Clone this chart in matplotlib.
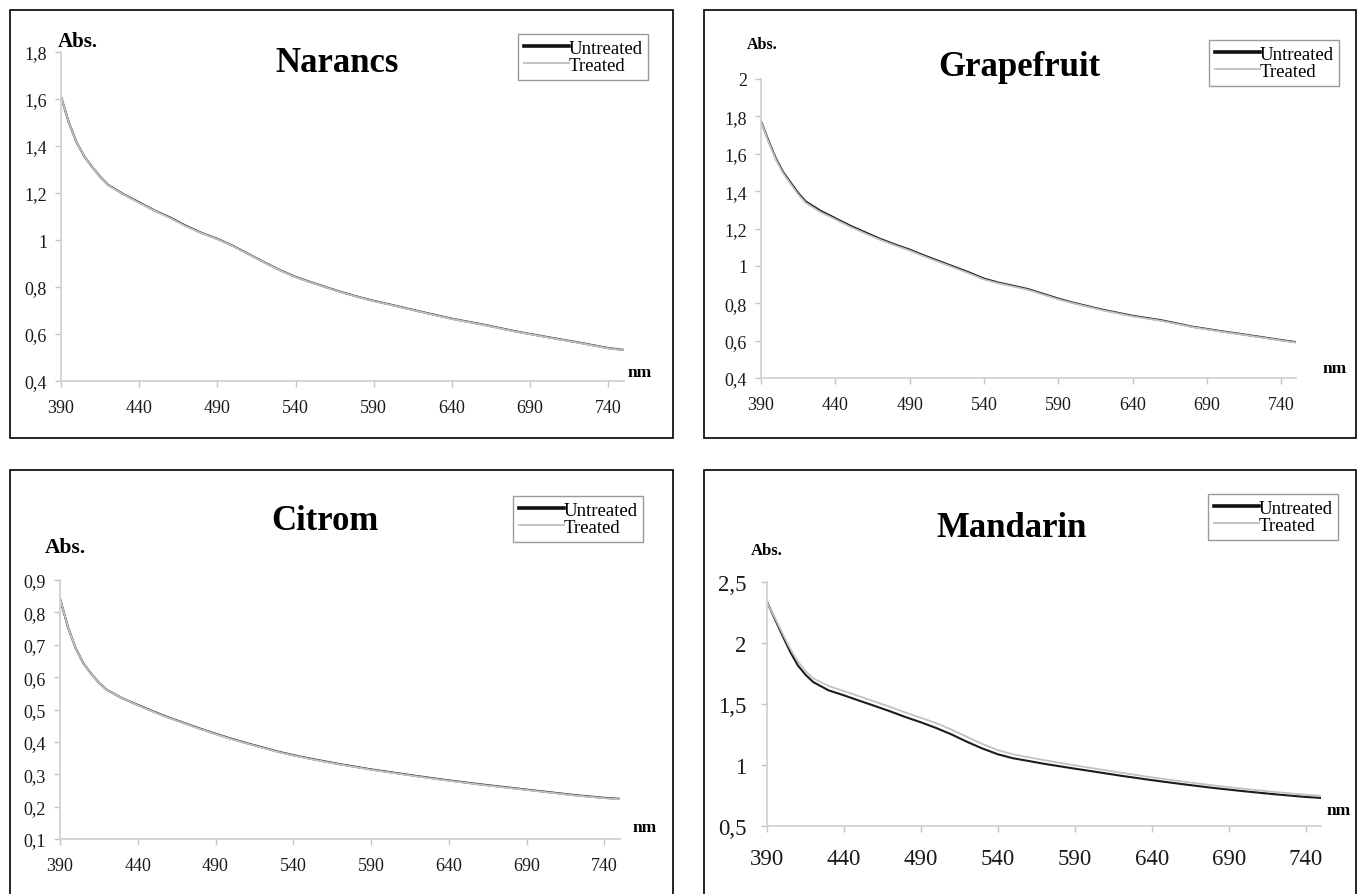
import matplotlib
matplotlib.use("Agg")
import matplotlib.pyplot as plt
from matplotlib.patches import Rectangle

plt.rcParams['font.family'] = ['Liberation Serif', 'DejaVu Serif']

# hullámhossz (nm)
wl = [390, 395, 400, 405, 410, 415, 420, 430, 440, 450, 460, 470, 480, 490, 500,
      510, 520, 530, 540, 550, 560, 570, 580, 590, 600, 620, 640, 660, 680, 700,
      720, 740, 750]

narancs_untreated = [1.61, 1.50, 1.415, 1.355, 1.31, 1.27, 1.235, 1.195, 1.16, 1.125,
                     1.095, 1.06, 1.03, 1.005, 0.975, 0.94, 0.905, 0.872, 0.843, 0.82,
                     0.798, 0.777, 0.758, 0.741, 0.726, 0.695, 0.665, 0.64, 0.612, 0.588,
                     0.565, 0.54, 0.532]
narancs_treated = [1.61, 1.50, 1.415, 1.355, 1.31, 1.27, 1.234, 1.194, 1.158, 1.124,
                   1.093, 1.058, 1.029, 1.004, 0.974, 0.939, 0.904, 0.871, 0.842, 0.819,
                   0.797, 0.776, 0.757, 0.740, 0.725, 0.694, 0.664, 0.639, 0.611, 0.587,
                   0.564, 0.539, 0.531]

grape_untreated = [1.775, 1.67, 1.575, 1.50, 1.445, 1.39, 1.345, 1.295, 1.255, 1.215,
                   1.18, 1.145, 1.115, 1.087, 1.055, 1.025, 0.995, 0.965, 0.932, 0.91,
                   0.893, 0.875, 0.85, 0.825, 0.803, 0.765, 0.733, 0.708, 0.675, 0.65,
                   0.627, 0.603, 0.592]
grape_treated = [1.772, 1.665, 1.569, 1.494, 1.438, 1.383, 1.338, 1.288, 1.249, 1.209,
                 1.174, 1.140, 1.110, 1.082, 1.050, 1.020, 0.990, 0.960, 0.927, 0.906,
                 0.889, 0.871, 0.846, 0.821, 0.800, 0.762, 0.730, 0.705, 0.673, 0.648,
                 0.625, 0.601, 0.590]

citrom_untreated = [0.843, 0.756, 0.69, 0.643, 0.611, 0.583, 0.561, 0.535, 0.514, 0.494,
                    0.475, 0.458, 0.441, 0.425, 0.41, 0.396, 0.383, 0.37, 0.359, 0.349,
                    0.34, 0.331, 0.323, 0.315, 0.308, 0.294, 0.281, 0.269, 0.258, 0.247,
                    0.236, 0.227, 0.224]
citrom_treated = [0.843, 0.756, 0.69, 0.643, 0.611, 0.583, 0.561, 0.535, 0.513, 0.493,
                  0.474, 0.457, 0.440, 0.424, 0.409, 0.395, 0.382, 0.369, 0.358, 0.348,
                  0.339, 0.330, 0.322, 0.314, 0.307, 0.293, 0.280, 0.268, 0.257, 0.246,
                  0.235, 0.226, 0.223]

mandarin_untreated = [2.336, 2.20, 2.063, 1.93, 1.817, 1.74, 1.68, 1.612, 1.571, 1.527,
                      1.484, 1.44, 1.393, 1.35, 1.303, 1.25, 1.19, 1.135, 1.088, 1.055,
                      1.033, 1.01, 0.99, 0.97, 0.951, 0.912, 0.876, 0.843, 0.812, 0.785,
                      0.76, 0.738, 0.73]
mandarin_treated = [2.33, 2.21, 2.08, 1.955, 1.85, 1.77, 1.71, 1.647, 1.606, 1.563,
                    1.52, 1.476, 1.43, 1.387, 1.343, 1.29, 1.23, 1.172, 1.122, 1.087,
                    1.063, 1.04, 1.018, 0.997, 0.977, 0.937, 0.899, 0.865, 0.833, 0.805,
                    0.779, 0.756, 0.748]

x_ticks = [390, 440, 490, 540, 590, 640, 690, 740]
labels = ['Untreated', 'Treated']

W, H = 1358, 895
fig = plt.figure(figsize=(W / 100, H / 100), dpi=100)


def rect(l, t, r, b):
    return [l / W, 1 - b / H, (r - l) / W, (b - t) / H]


def fx(x):
    return x / W


def fy(y):
    return 1 - y / H


# panel keretek
for (l, t, r, b) in [(10, 11, 673, 439), (704, 11, 1356, 439),
                     (10, 471, 673, 905), (704, 471, 1356, 905)]:
    fig.add_artist(Rectangle((fx(l), fy(b)), (r - l) / W, (b - t) / H,
                             transform=fig.transFigure, fill=False,
                             edgecolor='black', lw=1.2))

panels = [
    dict(title='Narancs', u=narancs_untreated, t=narancs_treated,
         box=(61, 53, 624, 382), ylim=(0.4, 1.8),
         yticks=[0.4, 0.6, 0.8, 1.0, 1.2, 1.4, 1.6, 1.8],
         ylabels=['0,4', '0,6', '0,8', '1', '1,2', '1,4', '1,6', '1,8'],
         fs=13, ypad=6, xpad=9,
         title_xy=(337, 72), abs_xy=(58, 47), abs_fs=15, nm_xy=(628, 377),
         leg_xy=(518, 35)),
    dict(title='Grapefruit', u=grape_untreated, t=grape_treated,
         box=(761, 80, 1296, 379), ylim=(0.4, 2.0),
         yticks=[0.4, 0.6, 0.8, 1.0, 1.2, 1.4, 1.6, 1.8, 2.0],
         ylabels=['0,4', '0,6', '0,8', '1', '1,2', '1,4', '1,6', '1,8', '2'],
         fs=13, ypad=6, xpad=9,
         title_xy=(1019, 76), abs_xy=(747, 49), abs_fs=11.5, nm_xy=(1323, 373),
         leg_xy=(1209, 41)),
    dict(title='Citrom', u=citrom_untreated, t=citrom_treated,
         box=(60, 581, 620, 840), ylim=(0.1, 0.9),
         yticks=[0.1, 0.2, 0.3, 0.4, 0.5, 0.6, 0.7, 0.8, 0.9],
         ylabels=['0,1', '0,2', '0,3', '0,4', '0,5', '0,6', '0,7', '0,8', '0,9'],
         fs=13, ypad=6, xpad=9,
         title_xy=(325, 530), abs_xy=(45, 553), abs_fs=15.5, nm_xy=(633, 832),
         leg_xy=(513, 497)),
    dict(title='Mandarin', u=mandarin_untreated, t=mandarin_treated,
         box=(767, 583, 1321, 827), ylim=(0.5, 2.5),
         yticks=[0.5, 1.0, 1.5, 2.0, 2.5],
         ylabels=['0,5', '1', '1,5', '2', '2,5'],
         fs=16.5, ypad=11, xpad=12,
         title_xy=(1012, 537), abs_xy=(751, 555), abs_fs=12, nm_xy=(1327, 815),
         leg_xy=(1208, 495)),
]

for p in panels:
    ax = fig.add_axes(rect(*p['box']))
    ax.plot(wl, p['u'], color='#1c1c1c', lw=1.5)
    ax.plot(wl, p['t'], color='#c2c2c2', lw=1.3)
    ax.set_xlim(390, 750)
    ax.set_ylim(*p['ylim'])
    ax.set_xticks(x_ticks)
    ax.set_xticklabels([str(v) for v in x_ticks])
    ax.set_yticks(p['yticks'])
    ax.set_yticklabels(p['ylabels'])
    for s in ['top', 'right']:
        ax.spines[s].set_visible(False)
    for s in ['left', 'bottom']:
        ax.spines[s].set_color('#d2d2d2')
        ax.spines[s].set_linewidth(1.3)
    ax.tick_params(axis='both', colors='#c4c4c4', length=4, width=1,
                   labelcolor='#1a1a1a', labelsize=p['fs'])
    ax.tick_params(axis='y', pad=p['ypad'])
    ax.tick_params(axis='x', pad=p['xpad'])

    fig.text(fx(p['title_xy'][0]), fy(p['title_xy'][1]), p['title'],
             ha='center', va='baseline', fontsize=25, fontweight='bold')
    fig.text(fx(p['abs_xy'][0]), fy(p['abs_xy'][1]), 'Abs.',
             ha='left', va='baseline', fontsize=p['abs_fs'], fontweight='bold')
    fig.text(fx(p['nm_xy'][0]), fy(p['nm_xy'][1]), 'nm',
             ha='left', va='baseline', fontsize=12.5, fontweight='bold')

    # jelmagyarázat
    h1 = plt.Line2D([], [], color='#111111', lw=2.6)
    h2 = plt.Line2D([], [], color='#c4c4c4', lw=1.4)
    leg = ax.legend([h1, h2], labels, loc='upper left',
                    bbox_to_anchor=(fx(p['leg_xy'][0]), fy(p['leg_xy'][1])),
                    bbox_transform=fig.transFigure, fontsize=13.5,
                    handlelength=2.4, handletextpad=0.0, labelspacing=0.0,
                    borderpad=0.3, borderaxespad=0, fancybox=False,
                    framealpha=1, edgecolor='#9a9a9a')
    leg.get_frame().set_linewidth(1.0)

fig.savefig('out.png', dpi=100)
